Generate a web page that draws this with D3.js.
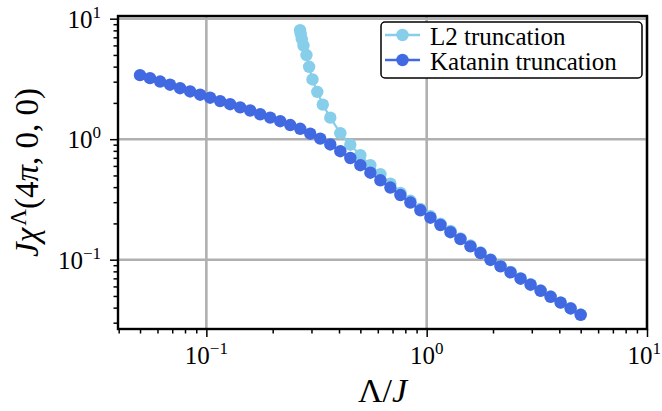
<!DOCTYPE html>
<html>
<head>
<meta charset="utf-8">
<script src="https://cdn.jsdelivr.net/npm/d3@7/dist/d3.min.js"></script>
<style>
  html, body { margin: 0; padding: 0; background: #fff; }
  svg { display: block; }
  text { font-family: "Liberation Serif", "DejaVu Serif", serif; fill: #000; }
</style>
</head>
<body>
<svg id="chart" width="662" height="411"></svg>
<script>
// ---------------- data ----------------
const seriesNames = ["L2 truncation", "Katanin truncation"];
const seriesColors = ["#87CEEB", "#4169E1"];

const kataninX = [0.0500, 0.0555, 0.0617, 0.0684, 0.0760, 0.0844, 0.0937, 0.1040, 0.1155, 0.1282,
                  0.1424, 0.1581, 0.1755, 0.1949, 0.2164, 0.2403, 0.2668, 0.2962, 0.3289, 0.3652,
                  0.4055, 0.4502, 0.5000, 0.5551, 0.6164, 0.6844, 0.7599, 0.8437, 0.9368, 1.0402,
                  1.1549, 1.2823, 1.4238, 1.5809, 1.7553, 1.9490, 2.1640, 2.4028, 2.6679, 2.9622,
                  3.2891, 3.6520, 4.0549, 4.5023, 5.0000];
const kataninY = [3.40, 3.21, 3.01, 2.83, 2.65, 2.49, 2.34, 2.21, 2.07, 1.95,
                  1.835, 1.73, 1.61, 1.51, 1.41, 1.31, 1.22, 1.11, 1.01, 0.904,
                  0.795, 0.698, 0.608, 0.527, 0.456, 0.397, 0.344, 0.298, 0.257, 0.223,
                  0.194, 0.169, 0.148, 0.129, 0.1135, 0.0995, 0.0880, 0.0784, 0.0695, 0.0620,
                  0.0552, 0.0492, 0.0440, 0.0394, 0.0349];

const l2X = [0.2663, 0.2683, 0.2711, 0.2760, 0.2847, 0.2927, 0.3032, 0.3188, 0.3377,
             0.3652, 0.4055, 0.4502, 0.5000, 0.5551, 0.6164, 0.6844, 0.7599, 0.8437, 0.9368,
             1.0402, 1.1549, 1.2823, 1.4238, 1.5809, 1.7553, 1.9490, 2.1640, 2.4028, 2.6679,
             2.9622, 3.2891, 3.6520, 4.0549, 4.5023, 5.0000];
const l2Y = [8.02, 7.46, 6.78, 5.99, 4.99, 3.99, 3.13, 2.47, 1.936,
             1.509, 1.122, 0.900, 0.736, 0.608, 0.512, 0.428, 0.358, 0.308, 0.264,
             0.229, 0.1985, 0.173, 0.1503, 0.131, 0.115, 0.1006, 0.089, 0.0792, 0.0702,
             0.0625, 0.0556, 0.0495, 0.0442, 0.0395, 0.0350];

const xTickExponents = [-1, 0, 1];
const yTickExponents = [-1, 0, 1];
const minorMantissas = [2, 3, 4, 5, 6, 7, 8, 9];
const xMaxLimit = 10;

// ---------------- layout ----------------
const W = 662, H = 411;
const M = { left: 118, right: 662 - 647, top: 16, bottom: 411 - 329 };
const svg = d3.select("#chart");

const l2 = l2X.map((x, i) => ({ x, y: l2Y[i] }));
const kat = kataninX.map((x, i) => ({ x, y: kataninY[i] }));
const all = l2.concat(kat);

// matplotlib-like 5% margins in log space
const lx = d3.extent(all, d => Math.log10(d.x));
const ly = d3.extent(all, d => Math.log10(d.y));
const px = (lx[1] - lx[0]) * 0.05, py = (ly[1] - ly[0]) * 0.05;

const x = d3.scaleLog().domain([Math.pow(10, lx[0] - px), xMaxLimit]).range([M.left, W - M.right]);
const y = d3.scaleLog().domain([Math.pow(10, ly[0] - py), Math.pow(10, ly[1] + py)]).range([H - M.bottom, M.top]);

function minorTicks(scale) {
  const [a, b] = scale.domain();
  const out = [];
  for (let e = Math.floor(Math.log10(a)); e <= Math.ceil(Math.log10(b)); e++) {
    for (const m of minorMantissas) {
      const v = m * Math.pow(10, e);
      if (v >= a && v <= b) out.push(v);
    }
  }
  return out;
}

const gridColor = "#b0b0b0";
const grid = svg.append("g");
xTickExponents.forEach(e => {
  const v = Math.pow(10, e);
  grid.append("line").attr("x1", x(v)).attr("x2", x(v)).attr("y1", M.top).attr("y2", H - M.bottom)
    .attr("stroke", gridColor).attr("stroke-width", 2.6);
});
yTickExponents.forEach(e => {
  const v = Math.pow(10, e);
  grid.append("line").attr("y1", y(v)).attr("y2", y(v)).attr("x1", M.left).attr("x2", W - M.right)
    .attr("stroke", gridColor).attr("stroke-width", 2.6);
});

svg.append("clipPath").attr("id", "clip").append("rect")
  .attr("x", M.left).attr("y", M.top).attr("width", W - M.left - M.right).attr("height", H - M.top - M.bottom);

const line = d3.line().x(d => x(d.x)).y(d => y(d.y));
const plot = svg.append("g").attr("clip-path", "url(#clip)");
[l2, kat].forEach((s, i) => {
  plot.append("path").datum(s).attr("d", line).attr("fill", "none")
    .attr("stroke", seriesColors[i]).attr("stroke-width", 2.2);
  plot.append("g").selectAll("circle").data(s).join("circle")
    .attr("cx", d => x(d.x)).attr("cy", d => y(d.y)).attr("r", 6.2)
    .attr("fill", seriesColors[i]);
});

const xAxisMajor = d3.axisBottom(x).tickValues(xTickExponents.map(e => Math.pow(10, e)))
  .tickSize(8).tickFormat("");
const xAxisMinor = d3.axisBottom(x).tickValues(minorTicks(x)).tickSize(4.5).tickFormat("");
const yAxisMajor = d3.axisLeft(y).tickValues(yTickExponents.map(e => Math.pow(10, e)))
  .tickSize(8).tickFormat("");
const yAxisMinor = d3.axisLeft(y).tickValues(minorTicks(y)).tickSize(4.5).tickFormat("");

function styleAxis(g) {
  g.select(".domain").remove();
  g.selectAll(".tick line").attr("stroke", "#000").attr("stroke-width", 1.5);
}
svg.append("g").attr("transform", `translate(0,${H - M.bottom})`).call(xAxisMinor).call(styleAxis);
svg.append("g").attr("transform", `translate(0,${H - M.bottom})`).call(xAxisMajor).call(styleAxis);
svg.append("g").attr("transform", `translate(${M.left},0)`).call(yAxisMinor).call(styleAxis);
svg.append("g").attr("transform", `translate(${M.left},0)`).call(yAxisMajor).call(styleAxis);

svg.append("rect").attr("x", M.left).attr("y", M.top)
  .attr("width", W - M.left - M.right).attr("height", H - M.top - M.bottom)
  .attr("fill", "none").attr("stroke", "#000").attr("stroke-width", 2.4);

function powLabel(g, e, xp, yp, anchor) {
  const t = g.append("text").attr("x", xp).attr("y", yp).attr("text-anchor", anchor)
    .style("font-size", "25px");
  t.append("tspan").text("10");
  t.append("tspan").attr("dy", -10).style("font-size", "17px").text(e < 0 ? "−" + (-e) : String(e));
  return t;
}
const labels = svg.append("g");
xTickExponents.forEach(e => {
  const t = powLabel(labels, e, x(Math.pow(10, e)), H - M.bottom + 35, "middle");
  const bb = t.node().getBBox();
  if (bb.x + bb.width > W - 1) t.attr("x", +t.attr("x") - (bb.x + bb.width - (W - 1)));
});
yTickExponents.forEach(e => powLabel(labels, e, 101, y(Math.pow(10, e)) + 9, "end"));

const xl = svg.append("text").attr("x", (M.left + W - M.right) / 2).attr("y", 402)
  .attr("text-anchor", "middle").style("font-size", "34px");
xl.append("tspan").text("Λ/");
xl.append("tspan").style("font-style", "italic").text("J");

const yl = svg.append("text").attr("transform", `translate(38,${(M.top + H - M.bottom) / 2}) rotate(-90)`)
  .attr("text-anchor", "middle").style("font-size", "33px");
yl.append("tspan").style("font-style", "italic").text("Jχ");
yl.append("tspan").attr("dy", -12).attr("dx", 2).style("font-size", "23px").text("Λ");
yl.append("tspan").attr("dy", 12).text("(4");
yl.append("tspan").style("font-style", "italic").text("π");
yl.append("tspan").text(", 0, 0)");

const lg = svg.append("g");
lg.append("rect").attr("x", 381).attr("y", 22).attr("width", 261).attr("height", 56).attr("rx", 4)
  .attr("fill", "#fff").attr("stroke", "#000").attr("stroke-width", 1.5);
seriesNames.forEach((name, i) => {
  const cy = 35 + i * 25;
  lg.append("line").attr("x1", 385).attr("x2", 420).attr("y1", cy).attr("y2", cy)
    .attr("stroke", seriesColors[i]).attr("stroke-width", 2.6);
  lg.append("circle").attr("cx", 402.5).attr("cy", cy).attr("r", 6.2).attr("fill", seriesColors[i]);
  lg.append("text").attr("x", 430).attr("y", cy + 9.5).style("font-size", "25px").text(name);
});
</script>
</body>
</html>
